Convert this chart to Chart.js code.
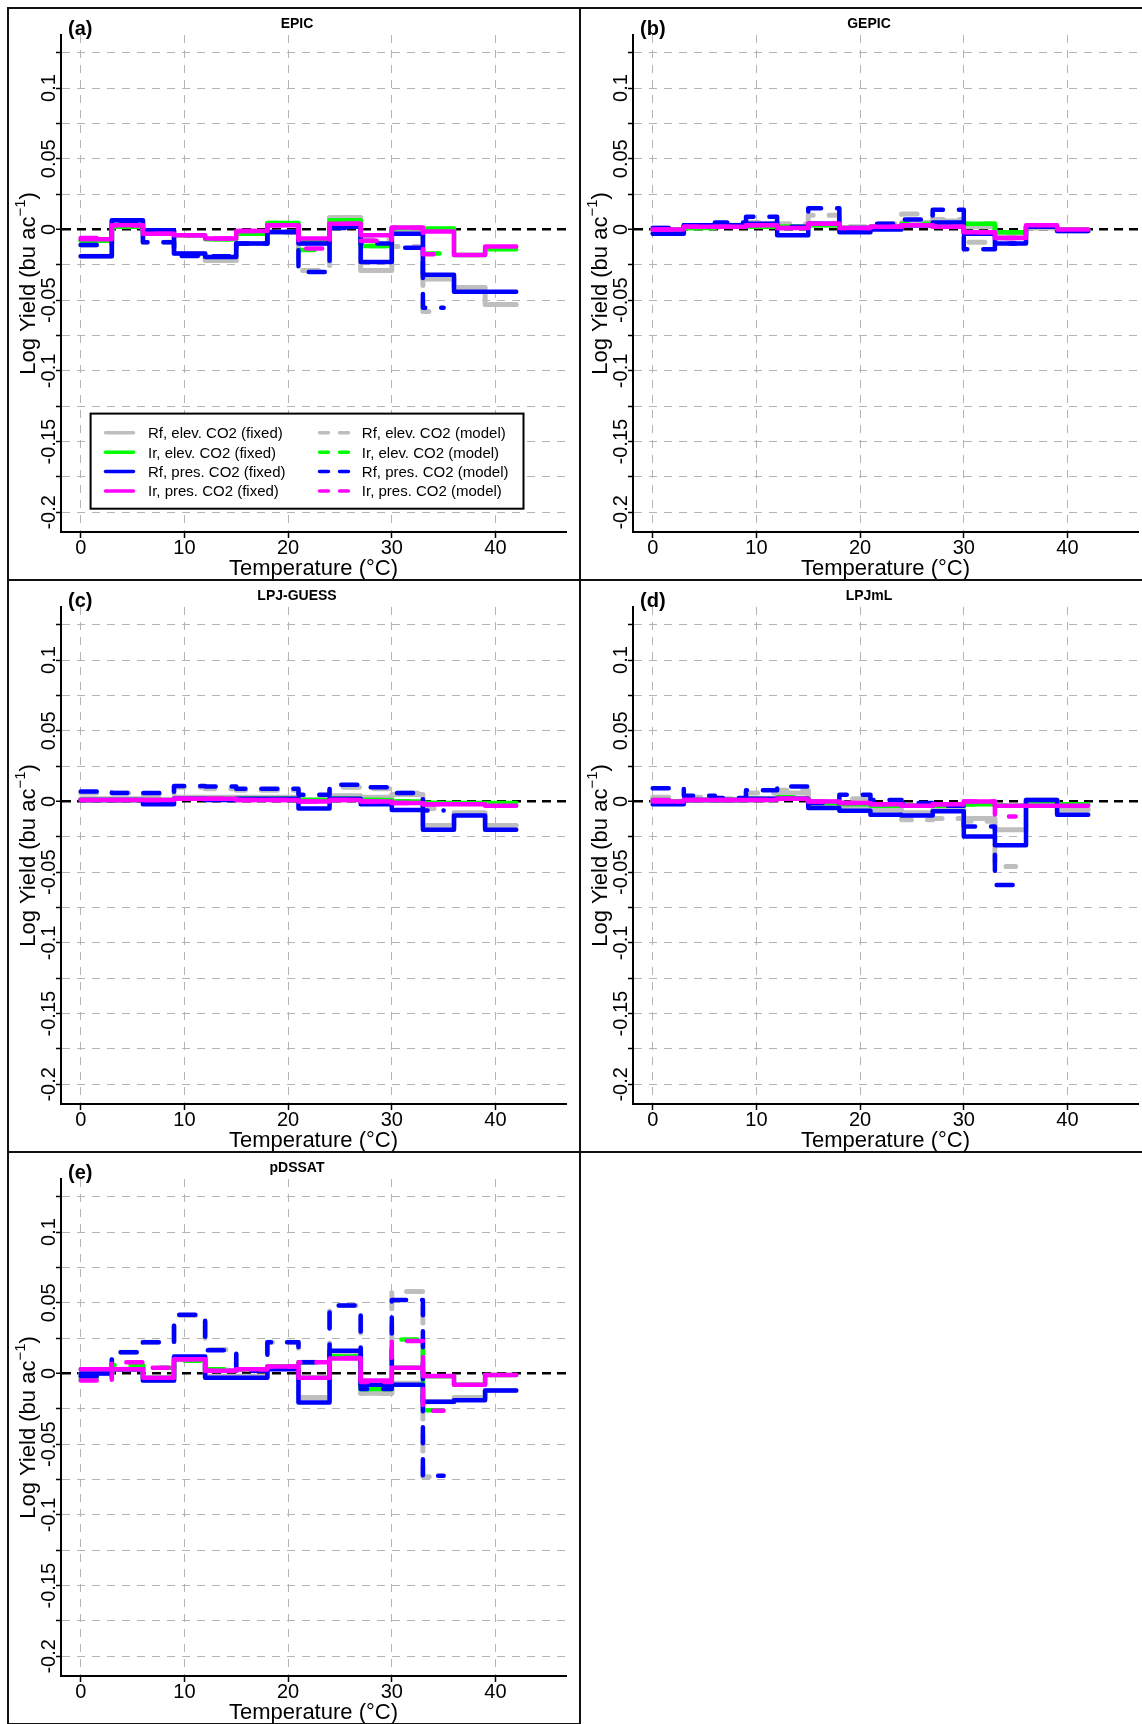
<!DOCTYPE html>
<html>
<head>
<meta charset="utf-8">
<script src="https://cdn.jsdelivr.net/npm/chart.js@4"></script>
<style>
html, body { margin: 0; padding: 0; background: #fff; width: 1142px; height: 1724px; overflow: hidden; }
.panel { position: absolute; width: 574px; height: 574px; border: 2px solid #111; box-sizing: border-box; }
.panel canvas { position: absolute; left: -1px; top: -1px; }
</style>
</head>
<body>
<div class="panel" style="left:7px;top:7px"><canvas id="pa" width="571" height="572"></canvas></div>
<div class="panel" style="left:579px;top:7px"><canvas id="pb" width="571" height="572"></canvas></div>
<div class="panel" style="left:7px;top:579px"><canvas id="pc" width="571" height="572"></canvas></div>
<div class="panel" style="left:579px;top:579px"><canvas id="pd" width="571" height="572"></canvas></div>
<div class="panel" style="left:7px;top:1151px"><canvas id="pe" width="571" height="572"></canvas></div>
<script>
// temperature bin edges (3 degree bins)
const tempEdges = [0, 3, 6, 9, 12, 15, 18, 21, 24, 27, 30, 33, 36, 39, 42];
const modelEdges = [0, 3, 6, 9, 12, 15, 18, 21, 24, 27, 30, 33, 35];

const xTickValues = [0, 10, 20, 30, 40];
const yTickValues = [-0.2, -0.15, -0.1, -0.05, 0, 0.05, 0.1];
const yTickLabels = ['-0.2', '-0.15', '-0.1', '-0.05', '0', '0.05', '0.1'];

const panelLetters = ['(a)', '(b)', '(c)', '(d)', '(e)'];
const panelTitles = ['EPIC', 'GEPIC', 'LPJ-GUESS', 'LPJmL', 'pDSSAT'];

const seriesLabels = ['Rf, elev. CO2', 'Ir, elev. CO2', 'Rf, pres. CO2', 'Ir, pres. CO2'];
const seriesColors = ['#BEBEBE', '#00FF00', '#0000FF', '#FF00FF'];

// each row: gray (Rf elev), green (Ir elev), blue (Rf pres), magenta (Ir pres)
const epicFixed = [
  [-0.019, 0.006, -0.001, -0.017, -0.022, -0.010, -0.002, -0.010, 0.0085, -0.029, -0.002, -0.035, -0.041, -0.053],
  [-0.008, 0.002, -0.003, -0.004, -0.007, -0.003, 0.0045, -0.008, 0.0066, -0.0116, 0.001, 0.0007, -0.018, -0.014],
  [-0.019, 0.0066, -0.0005, -0.017, -0.0195, -0.0099, -0.0017, -0.010, 0.002, -0.023, -0.003, -0.032, -0.044, -0.044],
  [-0.007, 0.003, -0.003, -0.004, -0.0064, -0.001, 0.003, -0.0064, 0.004, -0.004, 0.0014, -0.0015, -0.018, -0.012]
];
const epicModel = [
  [-0.011, 0.006, -0.009, -0.018, -0.022, -0.010, -0.002, -0.029, 0.008, -0.007, -0.012, -0.058],
  [-0.008, 0.002, -0.003, -0.004, -0.007, -0.003, 0.0045, -0.0146, 0.0066, -0.0116, 0.001, -0.017],
  [-0.011, 0.006, -0.009, -0.0187, -0.019, -0.0099, -0.0017, -0.030, 0.001, -0.010, -0.013, -0.0554],
  [-0.006, 0.003, -0.003, -0.004, -0.0064, -0.001, 0.003, -0.0134, 0.004, -0.008, 0.001, -0.0175]
];
const gepicFixed = [
  [-0.002, 0.002, 0.003, 0.004, 0.002, 0.003, 0.000, 0.002, 0.005, 0.006, 0.002, -0.004, 0.001, -0.001],
  [0.000, 0.001, 0.002, 0.002, 0.002, 0.003, 0.001, 0.001, 0.003, 0.003, 0.004, -0.002, 0.002, 0.000],
  [-0.003, 0.003, 0.003, 0.004, -0.004, 0.004, -0.002, 0.000, 0.003, 0.005, -0.003, -0.010, 0.002, -0.001],
  [0.000, 0.002, 0.002, 0.003, 0.001, 0.004, 0.001, 0.002, 0.003, 0.002, -0.002, -0.006, 0.003, 0.000]
];
const gepicModel = [
  [0.001, 0.002, 0.004, 0.005, 0.004, 0.010, 0.002, 0.004, 0.011, 0.007, -0.009, -0.006],
  [0.000, 0.001, 0.002, 0.003, 0.002, 0.004, 0.001, 0.002, 0.004, 0.003, 0.004, -0.002],
  [0.001, 0.003, 0.005, 0.009, 0.002, 0.015, 0.001, 0.004, 0.007, 0.014, -0.014, -0.010],
  [0.000, 0.002, 0.002, 0.003, 0.001, 0.004, 0.001, 0.002, 0.003, 0.002, -0.002, -0.006]
];
const lpjGuessFixed = [
  [0.002, 0.002, 0.001, 0.003, 0.003, 0.003, 0.003, 0.001, 0.004, 0.003, 0.005, -0.017, -0.008, -0.017],
  [0.001, 0.001, 0.001, 0.002, 0.002, 0.002, 0.002, 0.001, 0.002, 0.001, 0.000, -0.001, -0.001, -0.001],
  [0.001, 0.001, -0.002, 0.002, 0.001, 0.002, 0.002, -0.005, 0.002, -0.002, -0.006, -0.020, -0.010, -0.020],
  [0.001, 0.001, 0.001, 0.002, 0.002, 0.001, 0.001, 0.000, 0.001, 0.000, -0.001, -0.002, -0.002, -0.003]
];
const lpjGuessModel = [
  [0.006, 0.006, 0.005, 0.010, 0.009, 0.008, 0.008, 0.004, 0.010, 0.009, 0.006, -0.005],
  [0.001, 0.001, 0.001, 0.002, 0.002, 0.002, 0.002, 0.001, 0.002, 0.001, 0.000, -0.001],
  [0.007, 0.006, 0.006, 0.011, 0.0106, 0.009, 0.009, 0.0047, 0.0118, 0.010, 0.006, -0.0064],
  [0.001, 0.001, 0.001, 0.002, 0.002, 0.001, 0.001, 0.000, 0.001, 0.000, -0.001, -0.002]
];
const lpjmlFixed = [
  [0.000, 0.001, 0.001, 0.002, 0.006, -0.002, -0.004, -0.006, -0.008, -0.006, -0.012, -0.020, 0.001, -0.006],
  [0.000, 0.001, 0.001, 0.001, 0.002, -0.001, -0.002, -0.003, -0.003, -0.003, -0.002, -0.003, 0.000, -0.002],
  [-0.002, 0.001, 0.001, 0.002, 0.002, -0.0047, -0.0066, -0.0094, -0.010, -0.007, -0.0248, -0.031, 0.001, -0.0094],
  [0.000, 0.001, 0.001, 0.001, 0.002, 0.000, -0.001, -0.002, -0.003, -0.002, 0.000, -0.003, -0.003, -0.003]
];
const lpjmlModel = [
  [0.003, 0.003, 0.002, 0.006, 0.008, 0.000, 0.002, -0.004, -0.013, -0.012, -0.014, -0.046],
  [0.001, 0.001, 0.001, 0.002, 0.003, 0.000, -0.001, -0.002, -0.003, -0.003, -0.002, -0.003],
  [0.0094, 0.004, 0.0024, 0.008, 0.0106, -0.001, 0.0047, 0.001, -0.001, -0.003, -0.0177, -0.059],
  [0.001, 0.001, 0.001, 0.001, 0.002, 0.000, -0.001, -0.002, -0.003, -0.002, 0.000, -0.0106]
];
const pdssatFixed = [
  [0.000, 0.003, -0.005, 0.011, -0.002, -0.002, 0.004, -0.017, 0.014, -0.014, -0.007, -0.020, -0.017, -0.012],
  [0.003, 0.003, -0.003, 0.010, 0.002, 0.003, 0.005, -0.003, 0.012, -0.011, 0.004, -0.002, -0.008, -0.001],
  [0.000, 0.003, -0.005, 0.012, -0.003, -0.003, 0.003, -0.0205, 0.016, -0.008, -0.008, -0.020, -0.019, -0.012],
  [0.003, 0.003, -0.003, 0.010, 0.002, 0.003, 0.005, -0.003, 0.0106, -0.005, 0.004, -0.0017, -0.008, -0.001]
];
const pdssatModel = [
  [-0.002, 0.015, 0.022, 0.041, 0.017, 0.002, 0.022, 0.008, 0.048, -0.014, 0.058, -0.073],
  [-0.004, 0.006, 0.004, 0.009, 0.003, 0.003, 0.005, 0.008, 0.012, -0.011, 0.024, -0.026],
  [-0.002, 0.015, 0.022, 0.0415, 0.0165, 0.002, 0.022, 0.008, 0.048, -0.011, 0.052, -0.0724],
  [-0.005, 0.008, 0.004, 0.010, 0.002, 0.003, 0.005, 0.008, 0.011, -0.006, 0.023, -0.0264]
];

const panelFixed = [epicFixed, gepicFixed, lpjGuessFixed, lpjmlFixed, pdssatFixed];
const panelModel = [epicModel, gepicModel, lpjGuessModel, lpjmlModel, pdssatModel];
const canvasIds = ['pa', 'pb', 'pc', 'pd', 'pe'];

const FONT = '"Liberation Sans", Arial, Helvetica, sans-serif';
const GRID = '#b4b4b4';

function stepPoints(edges, vals) {
  const pts = vals.map((v, i) => ({x: edges[i], y: v}));
  pts.push({x: edges[vals.length], y: vals[vals.length - 1]});
  return pts;
}

// draws tick labels, axis titles, panel tags and the legend
const decor = {
  id: 'decor',
  afterDraw(chart, args, opts) {
    const ctx = chart.ctx, ca = chart.chartArea;
    const xs = chart.scales.x, ys = chart.scales.y;
    ctx.save();
    ctx.fillStyle = '#000';
    ctx.textBaseline = 'alphabetic';

    ctx.font = '20px ' + FONT;
    ctx.textAlign = 'center';
    yTickValues.forEach((v, i) => {
      ctx.save();
      ctx.translate(ca.left - 6, ys.getPixelForValue(v));
      ctx.rotate(-Math.PI / 2);
      ctx.fillText(yTickLabels[i], 0, 0);
      ctx.restore();
    });
    xTickValues.forEach(v => {
      ctx.fillText(String(v), xs.getPixelForValue(v), ca.bottom + 22);
    });

    ctx.font = '22px ' + FONT;
    ctx.fillText('Temperature (°C)', (ca.left + ca.right) / 2, ca.bottom + 43);

    // y title with superscript
    ctx.save();
    ctx.translate(ca.left - 26, (ca.top + ca.bottom) / 2);
    ctx.rotate(-Math.PI / 2);
    ctx.textAlign = 'left';
    const main = 'Log Yield (bu ac', sup = '\u22121', close = ')';
    ctx.font = '22px ' + FONT;
    const w1 = ctx.measureText(main).width, w3 = ctx.measureText(close).width;
    ctx.font = '15px ' + FONT;
    const w2 = ctx.measureText(sup).width;
    const x0 = -(w1 + w2 + w3) / 2;
    ctx.font = '22px ' + FONT;
    ctx.fillText(main, x0, 0);
    ctx.font = '15px ' + FONT;
    ctx.fillText(sup, x0 + w1, -10);
    ctx.font = '22px ' + FONT;
    ctx.fillText(close, x0 + w1 + w2, 0);
    ctx.restore();

    ctx.textAlign = 'left';
    ctx.font = 'bold 20px ' + FONT;
    ctx.fillText(opts.letter, 60, 26.5);
    ctx.textAlign = 'center';
    ctx.font = 'bold 14px ' + FONT;
    ctx.fillText(opts.title, 289, 19.5);

    if (opts.legend) {
      ctx.fillStyle = '#fff';
      ctx.fillRect(82.6, 405.6, 432.9, 95.1);
      ctx.lineWidth = 2;
      ctx.strokeStyle = '#000';
      ctx.strokeRect(82.6, 405.6, 432.9, 95.1);
      ctx.font = '15px ' + FONT;
      ctx.textAlign = 'left';
      ctx.lineCap = 'round';
      ctx.lineWidth = 3.5;
      seriesLabels.forEach((lab, i) => {
        const y = 424.8 + i * 19.4;
        ctx.strokeStyle = seriesColors[i];
        ctx.setLineDash([]);
        ctx.beginPath(); ctx.moveTo(97.5, y); ctx.lineTo(125.5, y); ctx.stroke();
        ctx.setLineDash([9, 11]);
        ctx.beginPath(); ctx.moveTo(311.5, y); ctx.lineTo(340.5, y); ctx.stroke();
        ctx.setLineDash([]);
        ctx.fillStyle = '#000';
        ctx.fillText(lab + ' (fixed)', 140, y + 5.4);
        ctx.fillText(lab + ' (model)', 353.8, y + 5.4);
      });
    }
    ctx.restore();
  }
};

function isZero(c) { return c.tick && Math.abs(c.tick.value) < 1e-9; }

panelTitles.forEach((title, p) => {
  const datasets = [];
  for (let s = 0; s < 4; s++) {
    datasets.push({
      label: seriesLabels[s] + ' (fixed)',
      data: stepPoints(tempEdges, panelFixed[p][s]),
      borderColor: seriesColors[s],
      borderWidth: s === 0 ? 5 : 4.5
    });
    datasets.push({
      label: seriesLabels[s] + ' (model)',
      data: stepPoints(modelEdges, panelModel[p][s]),
      borderColor: seriesColors[s],
      borderWidth: s === 0 ? 5 : 4.5,
      borderDash: [16, 16]
    });
  }
  datasets.forEach((d, i) => {
    d.order = datasets.length - i;
    d.stepped = true;
    d.pointRadius = 0;
    d.fill = false;
    d.borderCapStyle = 'round';
    d.borderJoinStyle = 'round';
  });

  new Chart(document.getElementById(canvasIds[p]), {
    type: 'line',
    data: {datasets: datasets},
    options: {
      responsive: false,
      animation: false,
      devicePixelRatio: 1,
      events: [],
      layout: {padding: {top: 27, right: 13, left: 0, bottom: 0}},
      plugins: {
        legend: {display: false},
        tooltip: {enabled: false},
        decor: {letter: panelLetters[p], title: title, legend: p === 0}
      },
      scales: {
        x: {
          type: 'linear', min: -1.9, max: 46.8,
          afterFit: s => { s.height = 48; },
          ticks: {stepSize: 10, includeBounds: false, display: false},
          grid: {color: GRID, lineWidth: 1, tickLength: 6, tickColor: '#000', tickWidth: 1.5},
          border: {display: true, color: '#000', width: 2, dash: [8, 7]}
        },
        y: {
          type: 'linear', min: -0.2139, max: 0.1375,
          afterFit: s => { s.width = 53; },
          ticks: {stepSize: 0.025, includeBounds: false, display: false},
          grid: {
            color: c => isZero(c) ? '#000' : GRID,
            lineWidth: c => isZero(c) ? 2.5 : 1,
            tickLength: 5, tickColor: '#000', tickWidth: 1.5
          },
          border: {display: true, color: '#000', width: 2, dash: c => isZero(c) ? [9, 6] : [8, 7]}
        }
      }
    },
    plugins: [decor]
  });
});
</script>
</body>
</html>
